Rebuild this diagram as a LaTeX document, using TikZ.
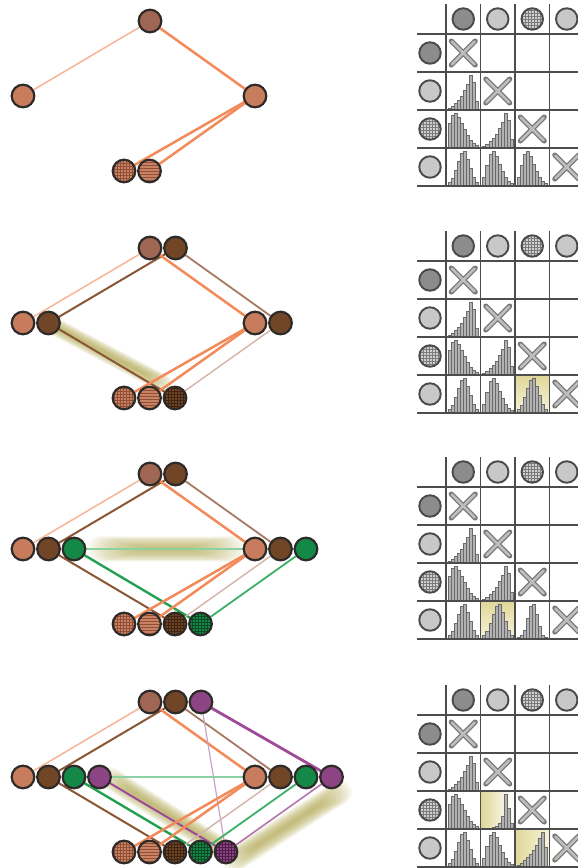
\documentclass[tikz,border=0pt]{standalone}
\usetikzlibrary{patterns}

\pgfdeclarelayer{paper}
\pgfdeclarelayer{bandlayer}
\pgfdeclarelayer{edgelayer}
\pgfsetlayers{paper,bandlayer,edgelayer,main}

% node fills
\definecolor{salT}{HTML}{A06654}
\definecolor{sal}{HTML}{C67C5D}
\definecolor{salB}{HTML}{CB8262}
\definecolor{salLine}{HTML}{8E5038}
\definecolor{brn}{HTML}{714626}
\definecolor{brnLine}{HTML}{3E2412}
\definecolor{grn}{HTML}{148847}
\definecolor{grnLine}{HTML}{0A4A24}
\definecolor{prp}{HTML}{8C4484}
\definecolor{prpLine}{HTML}{4E1E48}
\definecolor{nodeedge}{HTML}{2E2A28}
% connector colours
\definecolor{eSalL}{HTML}{F8B596}
\definecolor{eSal}{HTML}{F28A5A}
\definecolor{eBrn}{HTML}{8B5634}
\definecolor{eTan}{HTML}{A87A62}
\definecolor{eTanL}{HTML}{D4B4A8}
\definecolor{eGrnL}{HTML}{8AD2A2}
\definecolor{eGrn}{HTML}{24A052}
\definecolor{eGrnM}{HTML}{3CB064}
\definecolor{ePrp}{HTML}{9E4A98}
\definecolor{ePrpL}{HTML}{C8A2C8}
\definecolor{ePrpM}{HTML}{B474B0}
\definecolor{bandcol}{HTML}{B3A84E}
% comparison table
\definecolor{matline}{HTML}{4C4C4C}
\definecolor{matedge}{HTML}{4A4A4A}
\definecolor{mdark}{HTML}{8C8C8C}
\definecolor{mlight}{HTML}{C8C8C8}
\definecolor{mgrid}{HTML}{D0D0D0}
\definecolor{mgridline}{HTML}{7A7A7A}
\definecolor{barfill}{HTML}{B2B2B2}
\definecolor{barline}{HTML}{6A6A6A}
\definecolor{xdark}{HTML}{767676}
\definecolor{xlight}{HTML}{BDBDBD}
\definecolor{hlA}{HTML}{E0D89A}
\definecolor{hlB}{HTML}{F6F2D8}

\tikzset{
  gnode/.style={circle, draw=nodeedge, line width=2.2pt, minimum size=22.6pt, inner sep=0pt},
  gridnode/.style 2 args={gnode, preaction={fill=#1}, pattern=grid, pattern color=#2},
  linenode/.style 2 args={gnode, preaction={fill=#1}, pattern=horizontal lines, pattern color=#2},
  conn/.style 2 args={draw=#1, line width=#2},
  mcirc/.style={circle, draw=matedge, line width=1.9pt, minimum size=21.5pt, inner sep=0pt},
  gridcirc/.style={mcirc, preaction={fill=mgrid}, pattern=grid, pattern color=mgridline},
  grule/.style={draw=matline, line width=1.3pt},
  barbox/.style={fill=barfill, draw=barline, line width=0.55pt},
}

% histogram profiles (ten bars, fraction of cell height)
\def\riseH{0.04,0.1,0.18,0.28,0.4,0.55,0.75,1.0,0.8,0.25}
\def\fallH{0.7,0.95,1.0,0.88,0.7,0.52,0.36,0.22,0.12,0.05}
\def\symH{0.08,0.22,0.45,0.72,0.95,1.0,0.78,0.5,0.25,0.08}
\def\skewH{0.25,0.6,0.92,1.0,0.85,0.62,0.42,0.25,0.12,0.05}
\def\narrowH{0.02,0.08,0.25,0.6,0.95,1.0,0.7,0.35,0.1,0.02}
\def\spikeH{0.0,0.0,0.0,0.03,0.07,0.15,0.35,1.0,0.6,0.15}
\def\riseWH{0.04,0.1,0.17,0.26,0.36,0.48,0.62,0.82,1.0,0.55}

% histogram in cell (column, row)
\newcommand{\histcell}[3]{%
  \foreach \hv [count=\nb from 0] in #3 {%
    \path[barbox] ({446+34.5*(#1-1)+2.2+3.05*\nb},{34+38*#2-0.6}) rectangle ++(3.05,{-34*\hv});
  }}

% yellow tint behind a cell
\newcommand{\hlcell}[3]{%
  \shade[#3] ({446+34.5*(#1-1)+0.7},{34+38*(#2-1)+0.7}) rectangle ({446+34.5*#1-0.7},{34+38*#2-0.7});}

% cross on the diagonal
\newcommand{\xcell}[1]{%
  \pgfmathsetmacro{\xcx}{446+34.5*(#1-1)+17.25}%
  \pgfmathsetmacro{\xcy}{34+38*(#1-1)+19}%
  \draw[xdark, line width=5pt, line cap=round] (\xcx-12,\xcy-12) -- (\xcx+12,\xcy+12) (\xcx-12,\xcy+12) -- (\xcx+12,\xcy-12);
  \draw[xlight, line width=2.8pt, line cap=round] (\xcx-11.4,\xcy-11.4) -- (\xcx+11.4,\xcy+11.4) (\xcx-11.4,\xcy+11.4) -- (\xcx+11.4,\xcy-11.4);}

% rules, header and row circles, crosses
\newcommand{\matrixframe}[1]{%
  \foreach \k in {0,1,2,3} {\draw[grule] ({446+34.5*\k},4) -- ({446+34.5*\k},186);}
  \foreach \k in {0,1,2,3,4} {\draw[grule] (417,{34+38*\k}) -- (578,{34+38*\k});}
  \node[mcirc, fill=mdark] (#1h1) at (463.25,19) {};
  \node[mcirc, fill=mlight] (#1h2) at (497.75,19) {};
  \node[gridcirc] (#1h3) at (532.25,19) {};
  \node[mcirc, fill=mlight] (#1h4) at (566.75,19) {};
  \node[mcirc, fill=mdark] (#1r1) at (430,53) {};
  \node[mcirc, fill=mlight] (#1r2) at (430,91) {};
  \node[gridcirc] (#1r3) at (430,129) {};
  \node[mcirc, fill=mlight] (#1r4) at (430,167) {};
  \foreach \k in {1,2,3,4} {\xcell{\k}}
}

% soft khaki band along a segment: start, end, width, end fade
\newcommand{\glowband}[4]{%
  \foreach \gi in {0,...,15}{%
    \pgfmathsetmacro{\gw}{#3*(16-\gi)/16}%
    \pgfmathsetmacro{\gs}{#4*\gi/16}%
    \draw[draw=bandcol, opacity=0.075, line cap=round, line width=\gw pt, shorten <=\gs pt, shorten >=\gs pt] (#1) -- (#2);
  }}

\begin{document}
\begin{tikzpicture}[x=1pt,y=-1pt]
\useasboundingbox (0,0) rectangle (578,868);
\begin{pgfonlayer}{paper}
  \fill[white] (0,0) rectangle (578,868);
\end{pgfonlayer}

%% ---------- panel 1 ----------
\begin{scope}
  \node[gnode, fill=salT] (aT1) at (150,21) {};
  \node[gnode, fill=sal] (aL1) at (23,96) {};
  \node[gnode, fill=sal] (aR1) at (255,96) {};
  \node[gridnode={salB}{salLine}] (aB1) at (124,171) {};
  \node[linenode={salB}{salLine}] (aB2) at (149.5,171) {};
  \begin{pgfonlayer}{edgelayer}
    \draw[conn={eSalL}{1.5pt}] (aT1.center) -- (aL1.center);
    \draw[conn={eSal}{2.5pt}] (aT1.center) -- (aR1.center);
    \draw[conn={eSal}{2.5pt}] (aR1.center) -- (aB1.center);
    \draw[conn={eSal}{2.5pt}] (aR1.center) -- (aB2.center);
  \end{pgfonlayer}
  \histcell{1}{2}{\riseH}
  \histcell{1}{3}{\fallH}
  \histcell{2}{3}{\riseH}
  \histcell{1}{4}{\symH}
  \histcell{2}{4}{\skewH}
  \histcell{3}{4}{\skewH}
  \matrixframe{a}
\end{scope}

%% ---------- panel 2 ----------
\begin{scope}[shift={(0,227)}]
  \node[gnode, fill=salT] (bT1) at (150,21) {};
  \node[gnode, fill=brn] (bT2) at (175.5,21) {};
  \node[gnode, fill=sal] (bL1) at (23,96) {};
  \node[gnode, fill=brn] (bL2) at (48.5,96) {};
  \node[gnode, fill=sal] (bR1) at (255,96) {};
  \node[gnode, fill=brn] (bR2) at (280.5,96) {};
  \node[gridnode={salB}{salLine}] (bB1) at (124,171) {};
  \node[linenode={salB}{salLine}] (bB2) at (149.5,171) {};
  \node[gridnode={brn}{brnLine}] (bB3) at (175,171) {};
  \begin{pgfonlayer}{bandlayer}
    \coordinate (bG1) at (46,95);
    \coordinate (bG2) at (164,157);
    \glowband{bG1}{bG2}{18}{24}
  \end{pgfonlayer}
  \begin{pgfonlayer}{edgelayer}
    \draw[conn={eSalL}{1.5pt}] (bT1.center) -- (bL1.center);
    \draw[conn={eBrn}{2pt}] (bT2.center) -- (bL2.center);
    \draw[conn={eSal}{2.5pt}] (bT1.center) -- (bR1.center);
    \draw[conn={eTan}{1.8pt}] (bT2.center) -- (bR2.center);
    \draw[conn={eBrn}{2pt}] (bL2.center) -- (bB3.center);
    \draw[conn={eTanL}{1.4pt}] (bR2.center) -- (bB3.center);
    \draw[conn={eSal}{2.5pt}] (bR1.center) -- (bB1.center);
    \draw[conn={eSal}{2.5pt}] (bR1.center) -- (bB2.center);
  \end{pgfonlayer}
  \hlcell{3}{4}{top color=hlA, bottom color=hlB}
  \histcell{1}{2}{\riseH}
  \histcell{1}{3}{\fallH}
  \histcell{2}{3}{\riseH}
  \histcell{1}{4}{\symH}
  \histcell{2}{4}{\skewH}
  \histcell{3}{4}{\symH}
  \matrixframe{b}
\end{scope}

%% ---------- panel 3 ----------
\begin{scope}[shift={(0,453)}]
  \node[gnode, fill=salT] (cT1) at (150,21) {};
  \node[gnode, fill=brn] (cT2) at (175.5,21) {};
  \node[gnode, fill=sal] (cL1) at (23,96) {};
  \node[gnode, fill=brn] (cL2) at (48.5,96) {};
  \node[gnode, fill=grn] (cL3) at (74,96) {};
  \node[gnode, fill=sal] (cR1) at (255,96) {};
  \node[gnode, fill=brn] (cR2) at (280.5,96) {};
  \node[gnode, fill=grn] (cR3) at (306,96) {};
  \node[gridnode={salB}{salLine}] (cB1) at (124,171) {};
  \node[linenode={salB}{salLine}] (cB2) at (149.5,171) {};
  \node[gridnode={brn}{brnLine}] (cB3) at (175,171) {};
  \node[gridnode={grn}{grnLine}] (cB4) at (200.5,171) {};
  \begin{pgfonlayer}{bandlayer}
    \coordinate (cG1) at (100,96);
    \coordinate (cG2) at (232,96);
    \glowband{cG1}{cG2}{26}{50}
  \end{pgfonlayer}
  \begin{pgfonlayer}{edgelayer}
    \draw[conn={eSalL}{1.5pt}] (cT1.center) -- (cL1.center);
    \draw[conn={eBrn}{2pt}] (cT2.center) -- (cL2.center);
    \draw[conn={eSal}{2.5pt}] (cT1.center) -- (cR1.center);
    \draw[conn={eTan}{1.8pt}] (cT2.center) -- (cR2.center);
    \draw[conn={eGrnL}{1.8pt}] (cL3.center) -- (cR3.center);
    \draw[conn={eBrn}{2pt}] (cL2.center) -- (cB3.center);
    \draw[conn={eGrn}{2.4pt}] (cL3.center) -- (cB4.center);
    \draw[conn={eTanL}{1.4pt}] (cR2.center) -- (cB3.center);
    \draw[conn={eGrnM}{1.8pt}] (cR3.center) -- (cB4.center);
    \draw[conn={eSal}{2.5pt}] (cR1.center) -- (cB1.center);
    \draw[conn={eSal}{2.5pt}] (cR1.center) -- (cB2.center);
  \end{pgfonlayer}
  \hlcell{2}{4}{top color=hlA, bottom color=hlB}
  \histcell{1}{2}{\riseH}
  \histcell{1}{3}{\fallH}
  \histcell{2}{3}{\riseH}
  \histcell{1}{4}{\symH}
  \histcell{2}{4}{\symH}
  \histcell{3}{4}{\narrowH}
  \matrixframe{c}
\end{scope}

%% ---------- panel 4 ----------
\begin{scope}[shift={(0,681)}]
  \node[gnode, fill=salT] (dT1) at (150,21) {};
  \node[gnode, fill=brn] (dT2) at (175.5,21) {};
  \node[gnode, fill=prp] (dT3) at (201,21) {};
  \node[gnode, fill=sal] (dL1) at (23,96) {};
  \node[gnode, fill=brn] (dL2) at (48.5,96) {};
  \node[gnode, fill=grn] (dL3) at (74,96) {};
  \node[gnode, fill=prp] (dL4) at (99.5,96) {};
  \node[gnode, fill=sal] (dR1) at (255,96) {};
  \node[gnode, fill=brn] (dR2) at (280.5,96) {};
  \node[gnode, fill=grn] (dR3) at (306,96) {};
  \node[gnode, fill=prp] (dR4) at (331.5,96) {};
  \node[gridnode={salB}{salLine}] (dB1) at (124,171) {};
  \node[linenode={salB}{salLine}] (dB2) at (149.5,171) {};
  \node[gridnode={brn}{brnLine}] (dB3) at (175,171) {};
  \node[gridnode={grn}{grnLine}] (dB4) at (200.5,171) {};
  \node[gridnode={prp}{prpLine}] (dB5) at (226,171) {};
  \begin{pgfonlayer}{bandlayer}
    \coordinate (dG1) at (110,97);
    \coordinate (dG2) at (224,169);
    \glowband{dG1}{dG2}{22}{26}
    \coordinate (dG3) at (340,111);
    \coordinate (dG4) at (234,179);
    \glowband{dG3}{dG4}{24}{28}
  \end{pgfonlayer}
  \begin{pgfonlayer}{edgelayer}
    \draw[conn={eSalL}{1.5pt}] (dT1.center) -- (dL1.center);
    \draw[conn={eBrn}{2pt}] (dT2.center) -- (dL2.center);
    \draw[conn={eSal}{2.5pt}] (dT1.center) -- (dR1.center);
    \draw[conn={eTan}{1.8pt}] (dT2.center) -- (dR2.center);
    \draw[conn={ePrp}{2.8pt}] (dT3.center) -- (dR4.center);
    \draw[conn={ePrpL}{1.2pt}] (dT3.center) -- (dB5.center);
    \draw[conn={eGrnL}{1.8pt}] (dL3.center) -- (dR3.center);
    \draw[conn={eBrn}{2pt}] (dL2.center) -- (dB3.center);
    \draw[conn={eGrn}{2.4pt}] (dL3.center) -- (dB4.center);
    \draw[conn={ePrp}{2pt}] (dL4.center) -- (dB5.center);
    \draw[conn={eTanL}{1.4pt}] (dR2.center) -- (dB3.center);
    \draw[conn={eGrnM}{1.8pt}] (dR3.center) -- (dB4.center);
    \draw[conn={ePrpM}{1.6pt}] (dR4.center) -- (dB5.center);
    \draw[conn={eSal}{2.5pt}] (dR1.center) -- (dB1.center);
    \draw[conn={eSal}{2.5pt}] (dR1.center) -- (dB2.center);
  \end{pgfonlayer}
  \hlcell{2}{3}{left color=hlA, right color=white}
  \hlcell{3}{4}{left color=hlA, right color=hlB}
  \histcell{1}{2}{\riseH}
  \histcell{1}{3}{\fallH}
  \histcell{2}{3}{\spikeH}
  \histcell{1}{4}{\symH}
  \histcell{2}{4}{\skewH}
  \histcell{3}{4}{\riseWH}
  \matrixframe{d}
\end{scope}
\end{tikzpicture}
\end{document}
